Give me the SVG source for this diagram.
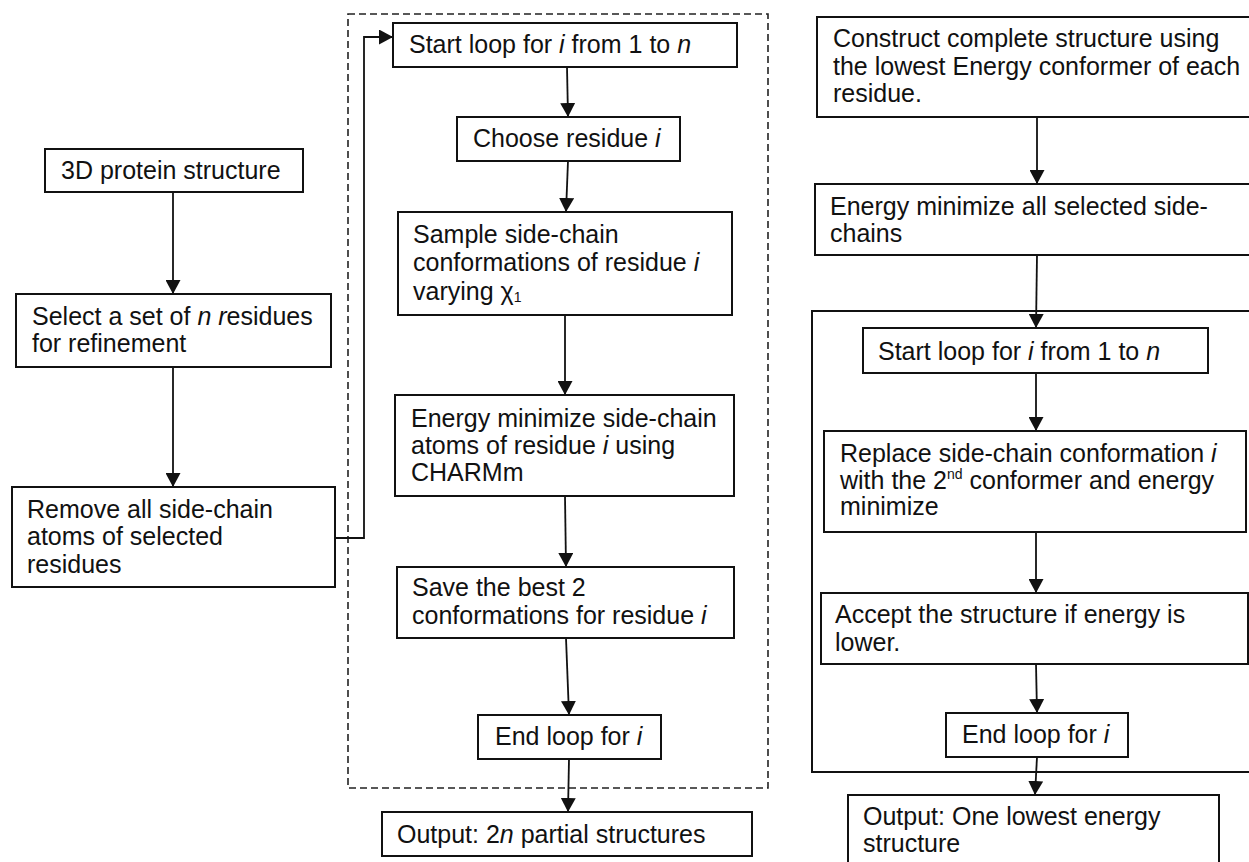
<svg xmlns="http://www.w3.org/2000/svg" width="1249" height="862" viewBox="0 0 1249 862">
<style>
.box{fill:#fff;stroke:#111;stroke-width:2}
.t{font-family:"Liberation Sans",Arial,sans-serif;font-size:25px;fill:#111}
.it{font-style:italic}
.c{fill:none;stroke:#111;stroke-width:1.8}
.dash{fill:none;stroke:#222;stroke-width:1.6;stroke-dasharray:7,4}
.frame{fill:none;stroke:#111;stroke-width:2}
</style>
<defs>
<marker id="ah" markerUnits="userSpaceOnUse" markerWidth="15" markerHeight="15" refX="14" refY="7.5" orient="auto">
<path d="M0,0 L14,7.5 L0,15 z" fill="#111"/>
</marker>
</defs>
<rect width="1249" height="862" fill="#fff"/>
<rect class="dash" x="348" y="14" width="420" height="774"/>
<rect class="frame" x="812" y="311" width="460" height="461"/>
<g id="connectors">
<line class="c" x1="173" y1="192" x2="173" y2="294" marker-end="url(#ah)"/>
<line class="c" x1="173" y1="367" x2="173" y2="487" marker-end="url(#ah)"/>
<polyline class="c" points="335,538 364,538 364,37 393,37" marker-end="url(#ah)"/>
<line class="c" x1="567" y1="67" x2="568" y2="117" marker-end="url(#ah)"/>
<line class="c" x1="568" y1="161" x2="566" y2="212" marker-end="url(#ah)"/>
<line class="c" x1="565" y1="315" x2="565" y2="395" marker-end="url(#ah)"/>
<line class="c" x1="565" y1="496" x2="566" y2="567" marker-end="url(#ah)"/>
<line class="c" x1="566" y1="638" x2="569" y2="715" marker-end="url(#ah)"/>
<line class="c" x1="569" y1="759" x2="568" y2="812" marker-end="url(#ah)"/>
<line class="c" x1="1037" y1="117" x2="1037" y2="184" marker-end="url(#ah)"/>
<line class="c" x1="1037" y1="255" x2="1036" y2="328" marker-end="url(#ah)"/>
<line class="c" x1="1036" y1="373" x2="1036" y2="431" marker-end="url(#ah)"/>
<line class="c" x1="1036" y1="532" x2="1036" y2="593" marker-end="url(#ah)"/>
<line class="c" x1="1036" y1="664" x2="1037" y2="713" marker-end="url(#ah)"/>
<line class="c" x1="1037" y1="757" x2="1035" y2="795" marker-end="url(#ah)"/>
</g>
<g id="n1"><rect class="box" x="45" y="149" width="258" height="43"/>
<text class="t" x="61" y="179">3D protein structure</text></g>
<g id="n2"><rect class="box" x="16" y="294" width="315" height="73"/>
<text class="t" x="32" y="325">Select a set of <tspan class="it">n r</tspan>esidues</text>
<text class="t" x="32" y="352">for refinement</text></g>
<g id="n3"><rect class="box" x="12" y="487" width="323" height="100"/>
<text class="t" x="27" y="518">Remove all side-chain</text>
<text class="t" x="27" y="545">atoms of selected</text>
<text class="t" x="27" y="573">residues</text></g>
<g id="m1"><rect class="box" x="393" y="23" width="344" height="44"/>
<text class="t" x="409" y="53">Start loop for <tspan class="it">i</tspan> from 1 to <tspan class="it">n</tspan></text></g>
<g id="m2"><rect class="box" x="457" y="117" width="223" height="44"/>
<text class="t" x="473" y="147">Choose residue <tspan class="it">i</tspan></text></g>
<g id="m3"><rect class="box" x="398" y="212" width="334" height="103"/>
<text class="t" x="413" y="243">Sample side-chain</text>
<text class="t" x="413" y="271">conformations of residue <tspan class="it">i</tspan></text>
<text class="t" x="413" y="300">varying χ<tspan font-size="14" dy="2">1</tspan></text></g>
<g id="m4"><rect class="box" x="395" y="395" width="339" height="101"/>
<text class="t" x="411" y="427">Energy minimize side-chain</text>
<text class="t" x="411" y="454">atoms of residue <tspan class="it">i</tspan> using</text>
<text class="t" x="411" y="481">CHARMm</text></g>
<g id="m5"><rect class="box" x="397" y="567" width="337" height="71"/>
<text class="t" x="412" y="596">Save the best 2</text>
<text class="t" x="412" y="624">conformations for residue <tspan class="it">i</tspan></text></g>
<g id="m6"><rect class="box" x="478" y="715" width="183" height="44"/>
<text class="t" x="495" y="745">End loop for <tspan class="it">i</tspan></text></g>
<g id="m7"><rect class="box" x="382" y="812" width="370" height="44"/>
<text class="t" x="397" y="843">Output: 2<tspan class="it">n</tspan> partial structures</text></g>
<g id="r1"><rect class="box" x="817" y="17" width="450" height="100"/>
<text class="t" x="833" y="47">Construct complete structure using</text>
<text class="t" x="833" y="75">the lowest Energy conformer of each</text>
<text class="t" x="833" y="102">residue.</text></g>
<g id="r2"><rect class="box" x="815" y="184" width="450" height="71"/>
<text class="t" x="830" y="215">Energy minimize all selected side-</text>
<text class="t" x="830" y="242">chains</text></g>
<g id="r3"><rect class="box" x="863" y="328" width="345" height="45"/>
<text class="t" x="878" y="360">Start loop for <tspan class="it">i</tspan> from 1 to <tspan class="it">n</tspan></text></g>
<g id="r4"><rect class="box" x="824" y="431" width="422" height="101"/>
<text class="t" x="840" y="462">Replace side-chain conformation <tspan class="it">i</tspan></text>
<text class="t" x="840" y="489">with the 2<tspan font-size="14" dy="-10">nd</tspan><tspan dy="10"> conformer and energy</tspan></text>
<text class="t" x="840" y="515">minimize</text></g>
<g id="r5"><rect class="box" x="821" y="593" width="427" height="71"/>
<text class="t" x="835" y="623">Accept the structure if energy is</text>
<text class="t" x="835" y="651">lower.</text></g>
<g id="r6"><rect class="box" x="946" y="713" width="182" height="44"/>
<text class="t" x="962" y="743">End loop for <tspan class="it">i</tspan></text></g>
<g id="r7"><rect class="box" x="848" y="795" width="371" height="80"/>
<text class="t" x="863" y="825">Output: One lowest energy</text>
<text class="t" x="863" y="852">structure</text></g>
</svg>
